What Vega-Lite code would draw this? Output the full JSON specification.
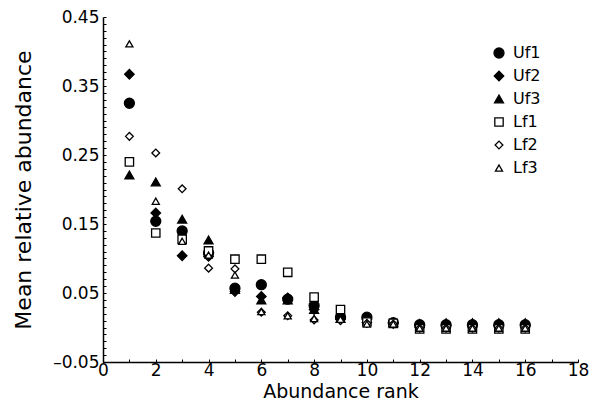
{
  "$schema": "https://vega.github.io/schema/vega-lite/v6.json",
  "width": 475,
  "height": 345,
  "autosize": {"type": "none"},
  "padding": {"left": 103, "top": 17, "right": 21, "bottom": 50},
  "background": "white",
  "config": {
    "view": {"stroke": null},
    "font": "DejaVu Sans",
    "axis": {
      "grid": false,
      "domainColor": "black",
      "domainWidth": 1.5,
      "tickColor": "black",
      "tickWidth": 1,
      "tickSize": -3,
      "labelColor": "black",
      "labelFont": "DejaVu Sans",
      "labelFontSize": 17,
      "titleFont": "DejaVu Sans",
      "titleFontSize": 19,
      "titleFontWeight": "normal",
      "titleColor": "black"
    },
    "legend": {
      "labelFont": "DejaVu Sans",
      "labelFontSize": 16,
      "labelColor": "black"
    }
  },
  "data": {
    "values": [
      {"series": "Uf1", "rank": 1, "value": 0.325},
      {"series": "Uf1", "rank": 2, "value": 0.154},
      {"series": "Uf1", "rank": 3, "value": 0.140},
      {"series": "Uf1", "rank": 4, "value": 0.108},
      {"series": "Uf1", "rank": 5, "value": 0.057},
      {"series": "Uf1", "rank": 6, "value": 0.062},
      {"series": "Uf1", "rank": 7, "value": 0.041},
      {"series": "Uf1", "rank": 8, "value": 0.032},
      {"series": "Uf1", "rank": 9, "value": 0.015},
      {"series": "Uf1", "rank": 10, "value": 0.015},
      {"series": "Uf1", "rank": 11, "value": 0.007},
      {"series": "Uf1", "rank": 12, "value": 0.004},
      {"series": "Uf1", "rank": 13, "value": 0.004},
      {"series": "Uf1", "rank": 14, "value": 0.004},
      {"series": "Uf1", "rank": 15, "value": 0.004},
      {"series": "Uf1", "rank": 16, "value": 0.004},
      {"series": "Uf2", "rank": 1, "value": 0.367},
      {"series": "Uf2", "rank": 2, "value": 0.166},
      {"series": "Uf2", "rank": 3, "value": 0.104},
      {"series": "Uf2", "rank": 4, "value": 0.103},
      {"series": "Uf2", "rank": 5, "value": 0.052},
      {"series": "Uf2", "rank": 6, "value": 0.045},
      {"series": "Uf2", "rank": 7, "value": 0.043},
      {"series": "Uf2", "rank": 8, "value": 0.026},
      {"series": "Uf2", "rank": 9, "value": 0.012},
      {"series": "Uf2", "rank": 10, "value": 0.012},
      {"series": "Uf2", "rank": 11, "value": 0.006},
      {"series": "Uf2", "rank": 12, "value": 0.003},
      {"series": "Uf2", "rank": 13, "value": 0.003},
      {"series": "Uf2", "rank": 14, "value": 0.003},
      {"series": "Uf2", "rank": 15, "value": 0.003},
      {"series": "Uf2", "rank": 16, "value": 0.003},
      {"series": "Uf3", "rank": 1, "value": 0.221},
      {"series": "Uf3", "rank": 2, "value": 0.211},
      {"series": "Uf3", "rank": 3, "value": 0.157},
      {"series": "Uf3", "rank": 4, "value": 0.127},
      {"series": "Uf3", "rank": 5, "value": 0.055},
      {"series": "Uf3", "rank": 6, "value": 0.040},
      {"series": "Uf3", "rank": 7, "value": 0.040},
      {"series": "Uf3", "rank": 8, "value": 0.026},
      {"series": "Uf3", "rank": 9, "value": 0.013},
      {"series": "Uf3", "rank": 10, "value": 0.013},
      {"series": "Uf3", "rank": 11, "value": 0.007},
      {"series": "Uf3", "rank": 12, "value": 0.006},
      {"series": "Uf3", "rank": 13, "value": 0.007},
      {"series": "Uf3", "rank": 14, "value": 0.007},
      {"series": "Uf3", "rank": 15, "value": 0.007},
      {"series": "Uf3", "rank": 16, "value": 0.007},
      {"series": "Lf1", "rank": 1, "value": 0.240},
      {"series": "Lf1", "rank": 2, "value": 0.137},
      {"series": "Lf1", "rank": 3, "value": 0.128},
      {"series": "Lf1", "rank": 4, "value": 0.111},
      {"series": "Lf1", "rank": 5, "value": 0.099},
      {"series": "Lf1", "rank": 6, "value": 0.099},
      {"series": "Lf1", "rank": 7, "value": 0.080},
      {"series": "Lf1", "rank": 8, "value": 0.044},
      {"series": "Lf1", "rank": 9, "value": 0.026},
      {"series": "Lf1", "rank": 10, "value": 0.008},
      {"series": "Lf1", "rank": 11, "value": 0.006},
      {"series": "Lf1", "rank": 12, "value": -0.002},
      {"series": "Lf1", "rank": 13, "value": -0.002},
      {"series": "Lf1", "rank": 14, "value": -0.002},
      {"series": "Lf1", "rank": 15, "value": -0.002},
      {"series": "Lf1", "rank": 16, "value": -0.002},
      {"series": "Lf2", "rank": 1, "value": 0.277},
      {"series": "Lf2", "rank": 2, "value": 0.253},
      {"series": "Lf2", "rank": 3, "value": 0.201},
      {"series": "Lf2", "rank": 4, "value": 0.086},
      {"series": "Lf2", "rank": 5, "value": 0.085},
      {"series": "Lf2", "rank": 6, "value": 0.022},
      {"series": "Lf2", "rank": 7, "value": 0.017},
      {"series": "Lf2", "rank": 8, "value": 0.011},
      {"series": "Lf2", "rank": 9, "value": 0.010},
      {"series": "Lf2", "rank": 10, "value": 0.006},
      {"series": "Lf2", "rank": 11, "value": 0.005},
      {"series": "Lf2", "rank": 12, "value": -0.001},
      {"series": "Lf2", "rank": 13, "value": -0.001},
      {"series": "Lf2", "rank": 14, "value": -0.001},
      {"series": "Lf2", "rank": 15, "value": -0.001},
      {"series": "Lf2", "rank": 16, "value": -0.001},
      {"series": "Lf3", "rank": 1, "value": 0.411},
      {"series": "Lf3", "rank": 2, "value": 0.183},
      {"series": "Lf3", "rank": 3, "value": 0.125},
      {"series": "Lf3", "rank": 4, "value": 0.105},
      {"series": "Lf3", "rank": 5, "value": 0.076},
      {"series": "Lf3", "rank": 6, "value": 0.023},
      {"series": "Lf3", "rank": 7, "value": 0.017},
      {"series": "Lf3", "rank": 8, "value": 0.013},
      {"series": "Lf3", "rank": 9, "value": 0.012},
      {"series": "Lf3", "rank": 10, "value": 0.005},
      {"series": "Lf3", "rank": 11, "value": 0.005},
      {"series": "Lf3", "rank": 12, "value": -0.001},
      {"series": "Lf3", "rank": 13, "value": -0.001},
      {"series": "Lf3", "rank": 14, "value": -0.001},
      {"series": "Lf3", "rank": 15, "value": -0.001},
      {"series": "Lf3", "rank": 16, "value": -0.001}
    ]
  },
  "mark": {"type": "point", "strokeWidth": 1.3, "opacity": 1, "filled": false},
  "encoding": {
    "x": {
      "field": "rank",
      "type": "quantitative",
      "scale": {"domain": [0, 18], "nice": false, "zero": false},
      "axis": {
        "title": "Abundance rank",
        "values": [0,1,2,3,4,5,6,7,8,9,10,11,12,13,14,15,16,17,18],
        "labelExpr": "datum.value % 2 === 0 ? datum.label : ''",
        "labelPadding": 3,
        "labelFlush": false,
        "labelOverlap": false,
        "titlePadding": 4
      }
    },
    "y": {
      "field": "value",
      "type": "quantitative",
      "scale": {"domain": [-0.05, 0.45], "nice": false, "zero": false},
      "axis": {
        "title": "Mean relative abundance",
        "titleFontSize": 22,
        "values": [-0.05,-0.04,-0.03,-0.02,-0.01,0,0.01,0.02,0.03,0.04,0.05,0.06,0.07,0.08,0.09,0.1,0.11,0.12,0.13,0.14,0.15,0.16,0.17,0.18,0.19,0.2,0.21,0.22,0.23,0.24,0.25,0.26,0.27,0.28,0.29,0.3,0.31,0.32,0.33,0.34,0.35,0.36,0.37,0.38,0.39,0.4,0.41,0.42,0.43,0.44,0.45],
        "format": ".2f",
        "labelExpr": "abs(round(datum.value * 100) + 5) % 10 === 0 ? replace(datum.label, '−', '–') : ''",
        "labelPadding": 7,
        "labelFlush": false,
        "labelOverlap": false,
        "titlePadding": 17
      }
    },
    "shape": {
      "field": "series",
      "type": "nominal",
      "scale": {"domain": ["Uf1", "Uf2", "Uf3", "Lf1", "Lf2", "Lf3"], "range": ["circle", "diamond", "triangle-up", "square", "diamond", "triangle-up"]},
      "legend": {"title": null, "orient": "none", "legendX": 388, "legendY": 28, "padding": 0, "rowPadding": 7, "labelOffset": 6, "symbolStrokeWidth": 1.3}
    },
    "fill": {
      "field": "series",
      "type": "nominal",
      "scale": {"domain": ["Uf1", "Uf2", "Uf3", "Lf1", "Lf2", "Lf3"], "range": ["black", "black", "black", "white", "white", "white"]},
      "legend": {"title": null, "orient": "none", "legendX": 388, "legendY": 28, "padding": 0, "rowPadding": 7, "labelOffset": 6, "symbolStrokeWidth": 1.3}
    },
    "stroke": {
      "field": "series",
      "type": "nominal",
      "scale": {"domain": ["Uf1", "Uf2", "Uf3", "Lf1", "Lf2", "Lf3"], "range": ["black", "black", "black", "black", "black", "black"]},
      "legend": {"title": null, "orient": "none", "legendX": 388, "legendY": 28, "padding": 0, "rowPadding": 7, "labelOffset": 6, "symbolStrokeWidth": 1.3}
    },
    "size": {
      "field": "series",
      "type": "nominal",
      "scale": {"domain": ["Uf1", "Uf2", "Uf3", "Lf1", "Lf2", "Lf3"], "range": [100, 50, 70, 64, 40, 60]},
      "legend": {"title": null, "orient": "none", "legendX": 388, "legendY": 28, "padding": 0, "rowPadding": 7, "labelOffset": 6, "symbolStrokeWidth": 1.3}
    }
  }
}
